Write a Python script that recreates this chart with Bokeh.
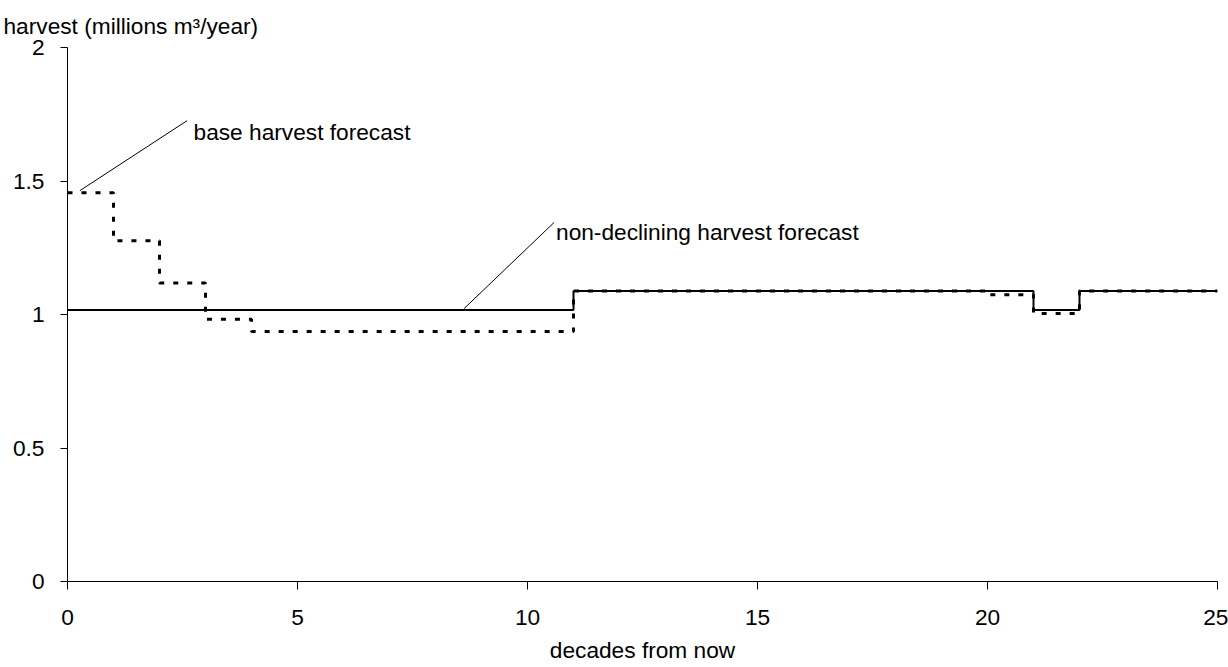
from bokeh.plotting import figure
from bokeh.models import Range1d, FixedTicker, NumeralTickFormatter, Label, Title
from bokeh.embed import file_html
from bokeh.resources import INLINE

# Harvest per decade (millions m3/year); each value holds from its decade to the next
decades = [0, 1, 2, 3, 4, 5, 6, 7, 8, 9, 10, 11, 12, 13, 14, 15, 16, 17, 18, 19, 20,
           21, 22, 23, 24, 25]
base_harvest = [1.456, 1.276, 1.118, 0.982, 0.936, 0.936, 0.936, 0.936, 0.936, 0.936,
                0.936, 1.088, 1.088, 1.088, 1.088, 1.088, 1.088, 1.088, 1.088, 1.088,
                1.074, 1.004, 1.088, 1.088, 1.088, 1.088]
nondeclining_harvest = [1.017, 1.017, 1.017, 1.017, 1.017, 1.017, 1.017, 1.017, 1.017,
                        1.017, 1.017, 1.088, 1.088, 1.088, 1.088, 1.088, 1.088, 1.088,
                        1.088, 1.088, 1.088, 1.017, 1.088, 1.088, 1.088, 1.088]

x_ticks = [0, 5, 10, 15, 20, 25]
y_ticks = [0, 0.5, 1, 1.5, 2]

x_title = "decades from now"
y_title = "harvest (millions m³/year)"

# Callout labels: text, leader start, leader end, text anchor (data units)
base_label = "base harvest forecast"
base_leader = (0.27, 1.464, 2.60, 1.726)
base_text_pos = (2.74, 1.684)
nondecl_label = "non-declining harvest forecast"
nondecl_leader = (8.62, 1.022, 10.58, 1.345)
nondecl_text_pos = (10.62, 1.308)

FONT = "Liberation Sans"
FS = "22.7px"

p = figure(width=1228, height=667, output_backend="svg", toolbar_location=None,
           x_range=Range1d(0, 25), y_range=Range1d(0, 2),
           min_border_left=67, min_border_right=11, min_border_top=47,
           min_border_bottom=86)
p.outline_line_color = None
p.xgrid.grid_line_color = None
p.ygrid.grid_line_color = None
p.background_fill_color = "white"
p.border_fill_color = "white"

for ax in (p.xaxis[0], p.yaxis[0]):
    ax.axis_line_color = "black"
    ax.axis_line_width = 1
    ax.major_tick_line_color = "black"
    ax.minor_tick_line_color = None
    ax.major_tick_in = 0
    ax.major_label_text_font = FONT
    ax.major_label_text_font_size = FS
    ax.major_label_text_color = "black"

p.xaxis.ticker = FixedTicker(ticks=x_ticks)
p.xaxis.major_tick_out = 8
p.xaxis.major_label_standoff = 20
p.xaxis.axis_label = x_title
p.xaxis.axis_label_text_font = FONT
p.xaxis.axis_label_text_font_size = FS
p.xaxis.axis_label_text_font_style = "normal"
p.xaxis.axis_label_text_color = "black"
p.xaxis.axis_label_standoff = 9

p.yaxis.ticker = FixedTicker(ticks=y_ticks)
p.yaxis.formatter = NumeralTickFormatter(format="0.[0]")
p.yaxis.major_tick_out = 7
p.yaxis.major_label_standoff = 16

# Vertical-axis title, written horizontally above the plot's top-left corner
p.add_layout(Title(text=y_title, align="left", vertical_align="bottom", offset=-64,
                   standoff=18, text_font=FONT, text_font_size=FS,
                   text_font_style="normal", text_color="black"), "above")

# Forecast step lines
p.step(decades, nondeclining_harvest, mode="after", line_color="black", line_width=2)
p.step(decades, base_harvest, mode="after", line_color="black", line_width=3,
       line_dash="5 9")

# Callout leader lines
p.segment(x0=[base_leader[0], nondecl_leader[0]], y0=[base_leader[1], nondecl_leader[1]],
          x1=[base_leader[2], nondecl_leader[2]], y1=[base_leader[3], nondecl_leader[3]],
          line_color="black", line_width=1)

for txt, (tx, ty) in ((base_label, base_text_pos), (nondecl_label, nondecl_text_pos)):
    p.add_layout(Label(x=tx, y=ty, text=txt, text_font=FONT, text_font_size=FS,
                       text_color="black", text_baseline="alphabetic", text_align="left"))

open("out.html", "w").write(file_html(p, INLINE))
